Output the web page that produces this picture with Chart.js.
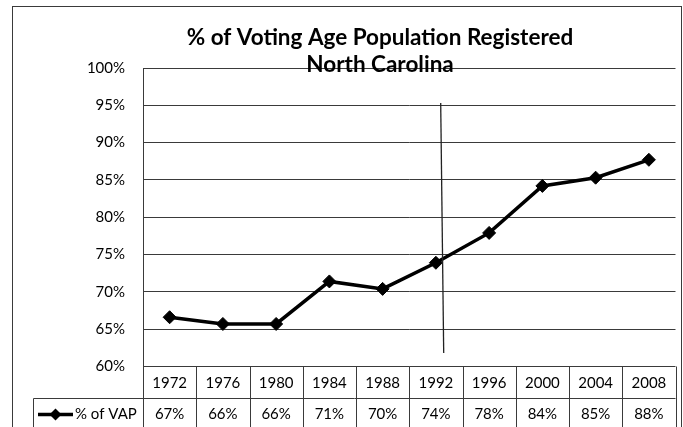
<!DOCTYPE html>
<html>
<head>
<meta charset="utf-8">
<script src="https://cdn.jsdelivr.net/npm/chart.js@4"></script>
<style>
  html, body { margin: 0; padding: 0; background: #fff; }
  #wrap { width: 683px; height: 427px; }
</style>
</head>
<body>
<div id="wrap"><canvas id="c" width="683" height="427"></canvas></div>
<script>
// Registered share of the voting-age population, North Carolina
const years = ['1972', '1976', '1980', '1984', '1988', '1992', '1996', '2000', '2004', '2008'];
const vapPct = [66.6, 65.7, 65.7, 71.4, 70.4, 73.9, 77.9, 84.2, 85.3, 87.7];
const seriesName = '% of VAP';
const titleLines = ['% of Voting Age Population Registered', 'North Carolina'];
const yMin = 60, yMax = 100, yStep = 5;
// hand-drawn reference line near 1992 (category position, y range in %)
const refLineAt = 5.1;
const refLineRange = [61.8, 95.3];

const FONT = 'Lato, "Open Sans", "DejaVu Sans", sans-serif';
const INK = '#000';
const RULE = '#3a3a3a';

const pct = v => Math.round(v) + '%';

const framePlugin = {
  id: 'frame',
  beforeDraw(chart) {
    const ctx = chart.ctx;
    ctx.save();
    ctx.fillStyle = '#fff';
    ctx.fillRect(0, 0, chart.width, chart.height);
    ctx.strokeStyle = RULE;
    ctx.lineWidth = 1;
    ctx.strokeRect(12.5, 6.5, 669, chart.height + 10);
    ctx.restore();
  },
  afterDatasetsDraw(chart) {
    const ctx = chart.ctx;
    const x = chart.scales.x, y = chart.scales.y;
    // reference line
    ctx.save();
    ctx.strokeStyle = '#222';
    ctx.lineWidth = 1.3;
    ctx.beginPath();
    ctx.moveTo(x.getPixelForValue(refLineAt) - 0.5, y.getPixelForValue(refLineRange[1]));
    ctx.lineTo(x.getPixelForValue(refLineAt) + 2.5, y.getPixelForValue(refLineRange[0]));
    ctx.stroke();
    ctx.restore();
  },
  afterDraw(chart) {
    const ctx = chart.ctx;
    const area = chart.chartArea;
    const x = chart.scales.x;
    const n = years.length;
    const cw = (area.right - area.left) / n;
    const row1Top = area.bottom, row1Bot = area.bottom + 31.5, row2Bot = chart.height + 5;
    const legendLeft = 33.5;

    ctx.save();
    // title
    ctx.fillStyle = INK;
    ctx.textAlign = 'center';
    ctx.textBaseline = 'middle';
    ctx.font = 'bold 22.5px ' + FONT;
    ctx.fillText(titleLines[0], 380, 38);
    ctx.fillText(titleLines[1], 380, 65);

    // data table
    ctx.strokeStyle = RULE;
    ctx.lineWidth = 1;
    ctx.beginPath();
    for (let k = 0; k <= n; k++) {
      const xx = Math.round(area.left + k * cw) + 0.5;
      ctx.moveTo(xx, row1Top);
      ctx.lineTo(xx, row2Bot);
    }
    ctx.moveTo(legendLeft, Math.round(row1Bot) + 0.5);
    ctx.lineTo(area.right, Math.round(row1Bot) + 0.5);
    ctx.moveTo(legendLeft, Math.round(row1Bot) + 0.5);
    ctx.lineTo(legendLeft, row2Bot);
    ctx.stroke();

    ctx.font = '15px ' + FONT;
    ctx.fillStyle = INK;
    const y1 = (row1Top + row1Bot) / 2 + 1;
    const y2 = row1Bot + 16.5;
    years.forEach((yr, i) => {
      const cx = x.getPixelForValue(i);
      ctx.fillText(yr, cx, y1);
      ctx.fillText(pct(vapPct[i]), cx, y2);
    });

    // legend key
    ctx.strokeStyle = '#000';
    ctx.lineWidth = 3.5;
    ctx.beginPath();
    ctx.moveTo(38, y2);
    ctx.lineTo(73, y2);
    ctx.stroke();
    ctx.fillStyle = '#000';
    ctx.beginPath();
    ctx.moveTo(55.5, y2 - 6);
    ctx.lineTo(61.5, y2);
    ctx.lineTo(55.5, y2 + 6);
    ctx.lineTo(49.5, y2);
    ctx.closePath();
    ctx.fill();
    ctx.fillStyle = INK;
    ctx.textAlign = 'left';
    ctx.fillText(seriesName, 75, y2);
    ctx.restore();
  }
};

new Chart(document.getElementById('c'), {
  type: 'line',
  data: {
    labels: years,
    datasets: [{
      label: seriesName,
      data: vapPct,
      borderColor: '#000',
      backgroundColor: '#000',
      borderWidth: 3.5,
      pointStyle: 'rectRot',
      pointRadius: 6.5,
      pointBorderWidth: 1,
      pointHoverRadius: 6.5,
      tension: 0,
      fill: false
    }]
  },
  options: {
    responsive: false,
    devicePixelRatio: 1,
    animation: false,
    events: [],
    layout: { padding: { left: 12, top: 68, right: 4, bottom: 60.5 } },
    plugins: {
      legend: { display: false },
      title: { display: false },
      tooltip: { enabled: false }
    },
    scales: {
      x: {
        type: 'category',
        display: false,
        offset: true
      },
      y: {
        min: yMin,
        max: yMax,
        afterFit(scale) { scale.width = 131; },
        ticks: {
          stepSize: yStep,
          padding: 18,
          color: INK,
          font: { family: FONT, size: 15 },
          callback: v => v + '%'
        },
        grid: { color: RULE, lineWidth: 1, drawTicks: false },
        border: { display: true, color: RULE, width: 1 }
      }
    }
  },
  plugins: [framePlugin]
});
</script>
</body>
</html>
